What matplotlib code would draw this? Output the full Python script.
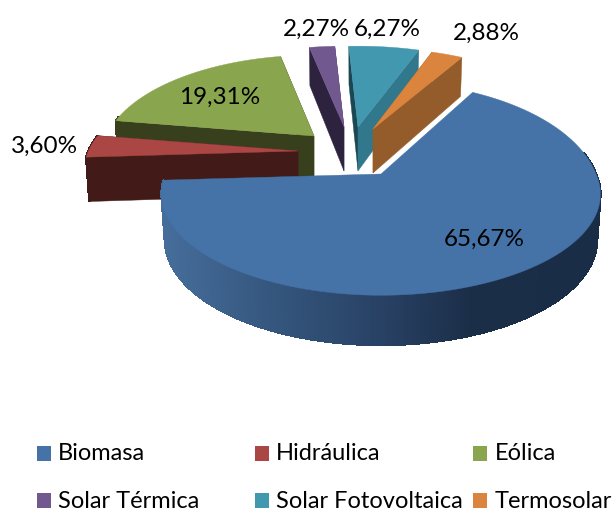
import numpy as np
import matplotlib
matplotlib.use("Agg")
import matplotlib.pyplot as plt
from matplotlib.patches import Polygon, Rectangle

categories = ["Biomasa", "Hidráulica", "Eólica", "Solar Térmica", "Solar Fotovoltaica", "Termosolar"]
values = [65.67, 3.60, 19.31, 2.27, 6.27, 2.88]
labels = ["65,67%", "3,60%", "19,31%", "2,27%", "6,27%", "2,88%"]

# styles
top_colors = ["#4572A7", "#AA4643", "#89A54E", "#71588F", "#4198AF", "#DB843D"]
first_wall = ["#2A4A70", "#421B18", "#383F1D", "#2E233F", "#1B4753", "#945C2B"]  # cut face at the slice's first edge
last_wall = ["#2A4A70", "#421B18", "#383F1D", "#2E233F", "#31788C", "#945C2B"]   # cut face at the slice's last edge
# exploded apex of each slice, in pixels
apex_x = [381, 298, 314, 344, 358, 373]
apex_y = [174, 151, 136, 127, 127, 129]
x_stretch = [1.0, 0.975, 0.965, 1.0, 1.0, 0.97]
back_stretch = [1.14, 1, 1, 1, 1, 1]
draw_order = [3, 4, 5, 2, 1, 0]
label_x = [484, 44, 220, 316, 387, 486]
label_y = [239, 146, 97, 29, 29, 33]
legend_box_x = [37, 255, 473, 37, 255, 473]
legend_text_x = [58, 276, 495, 58, 276, 495]
legend_y = [454, 454, 454, 501, 501, 501]
START_ANGLE = 60.0
RX, RY, PERSP = 215.0, 97.0, 0.2
FONT = "Lato"

fig = plt.figure(figsize=(6.15, 5.11), dpi=100)
ax = fig.add_axes([0, 0, 1, 1])
ax.set_xlim(0, 615)
ax.set_ylim(511, 0)
ax.axis("off")


def project(theta, i):
    """Screen offsets (from the slice apex) of a rim point at angle theta (degrees)."""
    t = np.radians(theta)
    X, Y = np.cos(t), np.sin(t)
    s = 1 / (1 + PERSP * Y)
    k = np.where(Y > 0, RY * back_stretch[i], RY)
    return RX * x_stretch[i] * X * s, -k * Y * s, Y


def depth(Y):
    return 44 * (1 - 0.13 * Y)


def wall_color(dx):
    xs = [-220, -120, 0, 90, 220]
    reds = [70, 54, 40, 27, 25]
    greens = [110, 88, 65, 46, 45]
    blues = [155, 128, 100, 72, 70]
    return (np.interp(dx, xs, reds) / 255, np.interp(dx, xs, greens) / 255, np.interp(dx, xs, blues) / 255)


fractions = np.array(values) / np.sum(values)
ends = START_ANGLE - np.cumsum(fractions) * 360
starts = np.concatenate([[START_ANGLE], ends[:-1]])

for z, i in enumerate(draw_order):
    ax0, ay0 = apex_x[i], apex_y[i]
    th = np.linspace(starts[i], ends[i], max(int(starts[i] - ends[i]) * 2, 8))
    dx, dy, Y = project(th, i)
    px, py = ax0 + dx, ay0 + dy
    bx, by = ax0 + dx * 0.985, py + depth(Y)
    # outer rim wall: only the part that faces the viewer
    for j in range(len(th) - 1):
        if Y[j] > 0.2:
            continue
        mid = (dx[j] + dx[j + 1]) / 2
        col = wall_color(mid) if i == 0 else first_wall[i]
        ax.add_patch(Polygon([(px[j], py[j]), (px[j + 1], py[j + 1]), (bx[j + 1], by[j + 1]), (bx[j], by[j])],
                             closed=True, fc=col, ec=col, lw=1.0, antialiased=False, zorder=z + 1))
    a_bot = ay0 + depth(0)
    if i != 0:
        # cut faces: the left-hand one first, the right-hand one over it
        for idx, col in [(0, first_wall[i]), (-1, last_wall[i])]:
            ax.add_patch(Polygon([(px[idx], py[idx]), (ax0, ay0), (ax0, a_bot), (bx[idx], by[idx])],
                                 closed=True, fc=col, ec=col, lw=0.3, zorder=z + 1))
    # top
    verts = [(ax0, ay0)] + list(zip(px, py))
    ax.add_patch(Polygon(verts, closed=True, fc=top_colors[i], ec=top_colors[i], lw=0.3, zorder=z + 1))

for lx, ly, t in zip(label_x, label_y, labels):
    ax.text(lx, ly, t, ha="center", va="center", fontsize=17.5, family=FONT, color="black", zorder=20)

for bx_, tx, ly, name, col in zip(legend_box_x, legend_text_x, legend_y, categories, top_colors):
    ax.add_patch(Rectangle((bx_, ly - 7.5), 14, 15, fc=col, ec="none", zorder=20))
    ax.text(tx, ly, name, ha="left", va="center", fontsize=17, family=FONT, color="black", zorder=20)

fig.savefig("out.png", dpi=100, facecolor="white")
